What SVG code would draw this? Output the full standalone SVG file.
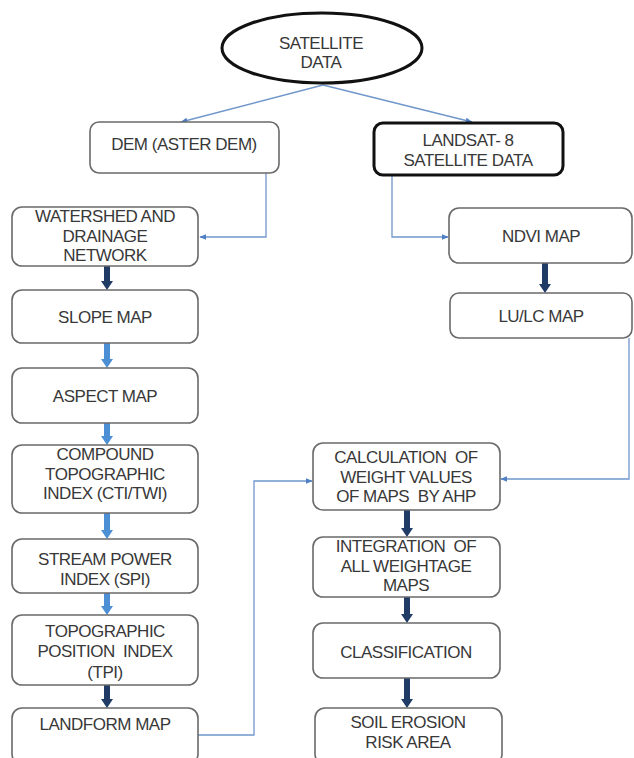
<svg xmlns="http://www.w3.org/2000/svg" width="634" height="758" viewBox="0 0 634 758">
<defs>
<style>
.box{fill:#fff;stroke:#6a6a6a;stroke-width:1.6}
.t{font-family:"Liberation Sans",Arial,sans-serif;font-size:17px;fill:#383838;text-anchor:middle;letter-spacing:-0.5px}
.thin{fill:none;stroke:#7096cc;stroke-width:1.3}
.dark{stroke:#1f3b66;stroke-width:6}
.light{stroke:#4d8fd4;stroke-width:6}
</style>
<marker id="ah" viewBox="0 0 10 10" refX="9" refY="5" markerWidth="7" markerHeight="7" markerUnits="userSpaceOnUse" orient="auto"><path d="M0,1 L10,5 L0,9 z" fill="#4f7fc4"/></marker>
</defs>
<rect width="634" height="758" fill="#fff"/>

<g id="connectors">
<path class="thin" d="M323,85 L181,122" marker-end="url(#ah)"/>
<path class="thin" d="M323,85 L472,122" marker-end="url(#ah)"/>
<path class="thin" d="M266,173 V237 H200" marker-end="url(#ah)"/>
<path class="thin" d="M392,175 V237 H448" marker-end="url(#ah)"/>
<path class="thin" d="M629,338 V479 H501" marker-end="url(#ah)"/>
<path class="thin" d="M198,735 H254 V481 H312" marker-end="url(#ah)"/>
<g>
<line class="dark" x1="107" y1="266" x2="107" y2="282"/><path d="M101,281 H113 L107,290 z" fill="#1f3b66"/>
<line class="light" x1="107" y1="343" x2="107" y2="360"/><path d="M101,359 H113 L107,368 z" fill="#4d8fd4"/>
<line class="light" x1="107" y1="423" x2="107" y2="437"/><path d="M101,436 H113 L107,445 z" fill="#4d8fd4"/>
<line class="light" x1="107" y1="513" x2="107" y2="531"/><path d="M101,530 H113 L107,539 z" fill="#4d8fd4"/>
<line class="light" x1="107" y1="593" x2="107" y2="607"/><path d="M101,606 H113 L107,615 z" fill="#4d8fd4"/>
<line class="dark" x1="107" y1="685" x2="107" y2="700"/><path d="M101,699 H113 L107,708 z" fill="#1f3b66"/>
</g>
<g>
<line class="dark" x1="545" y1="263" x2="545" y2="285"/><path d="M539,284 H551 L545,293 z" fill="#1f3b66"/>
<line class="dark" x1="407" y1="510" x2="407" y2="529"/><path d="M401,528 H413 L407,537 z" fill="#1f3b66"/>
<line class="dark" x1="407" y1="597" x2="407" y2="615"/><path d="M401,614 H413 L407,623 z" fill="#1f3b66"/>
<line class="dark" x1="407" y1="678" x2="407" y2="700"/><path d="M401,699 H413 L407,708 z" fill="#1f3b66"/>
</g>
</g>

<g id="satellite">
<ellipse cx="322" cy="48" rx="100" ry="35" fill="#fff" stroke="#111" stroke-width="3"/>
<text class="t" x="321" y="49">SATELLITE</text>
<text class="t" x="321" y="68">DATA</text>
</g>
<g id="dem">
<rect class="box" x="90" y="122" width="189" height="51" rx="9"/>
<text class="t" x="184" y="150">DEM (ASTER DEM)</text>
</g>
<g id="landsat">
<rect x="374" y="123" width="189" height="52" rx="9" fill="#fff" stroke="#111" stroke-width="3"/>
<text class="t" x="468" y="146">LANDSAT- 8</text>
<text class="t" x="468" y="166">SATELLITE DATA</text>
</g>
<g id="watershed">
<rect class="box" x="12" y="207" width="186" height="59" rx="10"/>
<text class="t" x="105" y="222">WATERSHED AND</text>
<text class="t" x="105" y="242">DRAINAGE</text>
<text class="t" x="105" y="261">NETWORK</text>
</g>
<g id="slope">
<rect class="box" x="12" y="290" width="186" height="53" rx="10"/>
<text class="t" x="105" y="323">SLOPE MAP</text>
</g>
<g id="aspect">
<rect class="box" x="12" y="368" width="186" height="55" rx="10"/>
<text class="t" x="105" y="402">ASPECT MAP</text>
</g>
<g id="cti">
<rect class="box" x="12" y="445" width="186" height="68" rx="10"/>
<text class="t" x="105" y="460">COMPOUND</text>
<text class="t" x="105" y="480">TOPOGRAPHIC</text>
<text class="t" x="105" y="499">INDEX (CTI/TWI)</text>
</g>
<g id="spi">
<rect class="box" x="12" y="539" width="186" height="54" rx="10"/>
<text class="t" x="105" y="565">STREAM POWER</text>
<text class="t" x="105" y="585">INDEX (SPI)</text>
</g>
<g id="tpi">
<rect class="box" x="12" y="615" width="186" height="70" rx="10"/>
<text class="t" x="105" y="637">TOPOGRAPHIC</text>
<text class="t" x="105" y="657" xml:space="preserve">POSITION  INDEX</text>
<text class="t" x="105" y="678">(TPI)</text>
</g>
<g id="landform">
<rect class="box" x="12" y="708" width="186" height="56" rx="10"/>
<text class="t" x="105" y="730">LANDFORM MAP</text>
</g>
<g id="ndvi">
<rect class="box" x="449" y="208" width="183" height="55" rx="10"/>
<text class="t" x="541" y="242">NDVI MAP</text>
</g>
<g id="lulc">
<rect class="box" x="450" y="293" width="182" height="45" rx="9"/>
<text class="t" x="541" y="322">LU/LC MAP</text>
</g>
<g id="ahp">
<rect class="box" x="313" y="443" width="187" height="67" rx="10"/>
<text class="t" x="406" y="463" xml:space="preserve">CALCULATION  OF</text>
<text class="t" x="406" y="483">WEIGHT VALUES</text>
<text class="t" x="406" y="502" xml:space="preserve">OF MAPS  BY AHP</text>
</g>
<g id="integration">
<rect class="box" x="313" y="537" width="187" height="60" rx="10"/>
<text class="t" x="406" y="552" xml:space="preserve">INTEGRATION  OF</text>
<text class="t" x="406" y="572">ALL WEIGHTAGE</text>
<text class="t" x="406" y="591">MAPS</text>
</g>
<g id="classification">
<rect class="box" x="313" y="623" width="187" height="55" rx="10"/>
<text class="t" x="406" y="658">CLASSIFICATION</text>
</g>
<g id="soil">
<rect class="box" x="315" y="708" width="187" height="56" rx="10"/>
<text class="t" x="408" y="728">SOIL EROSION</text>
<text class="t" x="408" y="748">RISK AREA</text>
</g>
</svg>
